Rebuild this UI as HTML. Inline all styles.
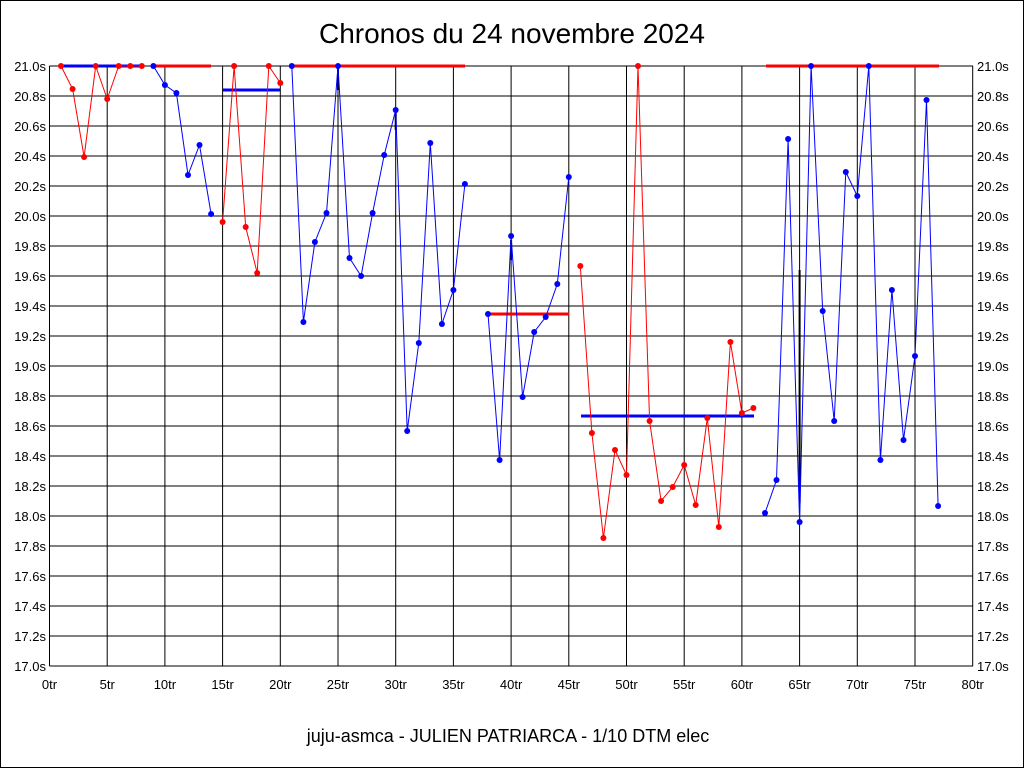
<!DOCTYPE html>
<html><head><meta charset="utf-8"><style>
html,body{margin:0;padding:0;background:#fff;}
svg{display:block;font-family:"Liberation Sans",sans-serif;}
</style></head><body>
<svg width="1024" height="768" viewBox="0 0 1024 768">
<rect x="0.5" y="0.5" width="1023" height="767" fill="#fff" stroke="#000"/>
<text x="512" y="43" font-size="28" text-anchor="middle">Chronos du 24 novembre 2024</text>
<g stroke="#000" stroke-width="1">
<path d="M49.5 66H973M49.5 96H973M49.5 126H973M49.5 156H973M49.5 186H973M49.5 216H973M49.5 246H973M49.5 276H973M49.5 306H973M49.5 336H973M49.5 366H973M49.5 396H973M49.5 426H973M49.5 456H973M49.5 486H973M49.5 516H973M49.5 546H973M49.5 576H973M49.5 606H973M49.5 636H973M49.5 666H973"/>
<path d="M49.5 66V666M107.2 66V666M164.9 66V666M222.6 66V666M280.3 66V666M338 66V666M395.7 66V666M453.4 66V666M511.1 66V666M568.8 66V666M626.5 66V666M684.2 66V666M741.9 66V666M799.6 66V666M857.3 66V666M915 66V666M972.7 66V666"/>
</g>
<g font-size="13" text-anchor="end">
<text x="46" y="71">21.0s</text><text x="46" y="101">20.8s</text><text x="46" y="131">20.6s</text><text x="46" y="161">20.4s</text><text x="46" y="191">20.2s</text><text x="46" y="221">20.0s</text><text x="46" y="251">19.8s</text><text x="46" y="281">19.6s</text><text x="46" y="311">19.4s</text><text x="46" y="341">19.2s</text><text x="46" y="371">19.0s</text><text x="46" y="401">18.8s</text><text x="46" y="431">18.6s</text><text x="46" y="461">18.4s</text><text x="46" y="491">18.2s</text><text x="46" y="521">18.0s</text><text x="46" y="551">17.8s</text><text x="46" y="581">17.6s</text><text x="46" y="611">17.4s</text><text x="46" y="641">17.2s</text><text x="46" y="671">17.0s</text>
</g>
<g font-size="13" text-anchor="start">
<text x="977" y="71">21.0s</text><text x="977" y="101">20.8s</text><text x="977" y="131">20.6s</text><text x="977" y="161">20.4s</text><text x="977" y="191">20.2s</text><text x="977" y="221">20.0s</text><text x="977" y="251">19.8s</text><text x="977" y="281">19.6s</text><text x="977" y="311">19.4s</text><text x="977" y="341">19.2s</text><text x="977" y="371">19.0s</text><text x="977" y="401">18.8s</text><text x="977" y="431">18.6s</text><text x="977" y="461">18.4s</text><text x="977" y="491">18.2s</text><text x="977" y="521">18.0s</text><text x="977" y="551">17.8s</text><text x="977" y="581">17.6s</text><text x="977" y="611">17.4s</text><text x="977" y="641">17.2s</text><text x="977" y="671">17.0s</text>
</g>
<g font-size="13" text-anchor="middle">
<text x="49.5" y="689">0tr</text><text x="107.2" y="689">5tr</text><text x="164.9" y="689">10tr</text><text x="222.6" y="689">15tr</text><text x="280.3" y="689">20tr</text><text x="338" y="689">25tr</text><text x="395.7" y="689">30tr</text><text x="453.4" y="689">35tr</text><text x="511.1" y="689">40tr</text><text x="568.8" y="689">45tr</text><text x="626.5" y="689">50tr</text><text x="684.2" y="689">55tr</text><text x="741.9" y="689">60tr</text><text x="799.6" y="689">65tr</text><text x="857.3" y="689">70tr</text><text x="915" y="689">75tr</text><text x="972.7" y="689">80tr</text>
</g>
<text x="508" y="742" font-size="18" text-anchor="middle">juju-asmca - JULIEN PATRIARCA - 1/10 DTM elec</text>

<!-- average lines -->
<g stroke-width="3">
<path d="M61 66H143" stroke="#0000ff"/>
<path d="M153 66H211" stroke="#ff0000"/>
<path d="M223 90H280" stroke="#0000ff"/>
<path d="M292 66H465" stroke="#ff0000"/>
<path d="M488 314H569" stroke="#ff0000"/>
<path d="M581 416H754" stroke="#0000ff"/>
<path d="M766 66H939" stroke="#ff0000"/>
</g>
<!-- black connectors -->
<g stroke="#000" stroke-width="2">
<path d="M799.6 270V503"/><path d="M338 66V90"/><path d="M395.7 110V130"/><path d="M511.1 240V260"/>
</g>

<g fill="none" stroke-width="1">
<polyline stroke="#ff0000" points="61,66 72.6,89 84.1,157 95.7,66 107.2,99 118.7,66 130.3,66 141.8,66"/>
<polyline stroke="#0000ff" points="153.4,66 164.9,85 176.4,93 188,175 199.5,145 211.1,214"/>
<polyline stroke="#ff0000" points="222.6,222 234.1,66 245.7,227 257.2,273 268.8,66 280.3,83"/>
<polyline stroke="#0000ff" points="291.8,66 303.4,322 314.9,242 326.5,213 338,66 349.5,258 361.1,276 372.6,213 384.2,155 395.7,110 407.2,431 418.8,343 430.3,143 441.9,324 453.4,290 464.9,184"/>
<polyline stroke="#0000ff" points="488,314 499.6,460 511.1,236 522.6,397 534.2,332 545.7,317 557.3,284 568.8,177"/>
<polyline stroke="#ff0000" points="580.3,266 591.9,433 603.4,538 615,450 626.5,475 638,66 649.6,421 661.1,501 672.7,487 684.2,465 695.7,505 707.3,418 718.8,527 730.4,342 741.9,413 753.4,408"/>
<polyline stroke="#0000ff" points="765,513 776.5,480 788.1,139 799.6,522 811.1,66 822.7,311 834.2,421 845.8,172 857.3,196 868.8,66 880.4,460 891.9,290 903.5,440 915,356 926.5,100 938.1,506"/>
</g>
<g fill="#ff0000">
<circle cx="61" cy="66" r="3"/><circle cx="72.6" cy="89" r="3"/><circle cx="84.1" cy="157" r="3"/><circle cx="95.7" cy="66" r="3"/><circle cx="107.2" cy="99" r="3"/><circle cx="118.7" cy="66" r="3"/><circle cx="130.3" cy="66" r="3"/><circle cx="141.8" cy="66" r="3"/>
<circle cx="222.6" cy="222" r="3"/><circle cx="234.1" cy="66" r="3"/><circle cx="245.7" cy="227" r="3"/><circle cx="257.2" cy="273" r="3"/><circle cx="268.8" cy="66" r="3"/><circle cx="280.3" cy="83" r="3"/>
<circle cx="580.3" cy="266" r="3"/><circle cx="591.9" cy="433" r="3"/><circle cx="603.4" cy="538" r="3"/><circle cx="615" cy="450" r="3"/><circle cx="626.5" cy="475" r="3"/><circle cx="638" cy="66" r="3"/><circle cx="649.6" cy="421" r="3"/><circle cx="661.1" cy="501" r="3"/><circle cx="672.7" cy="487" r="3"/><circle cx="684.2" cy="465" r="3"/><circle cx="695.7" cy="505" r="3"/><circle cx="707.3" cy="418" r="3"/><circle cx="718.8" cy="527" r="3"/><circle cx="730.4" cy="342" r="3"/><circle cx="741.9" cy="413" r="3"/><circle cx="753.4" cy="408" r="3"/>
</g>
<g fill="#0000ff">
<circle cx="153.4" cy="66" r="3"/><circle cx="164.9" cy="85" r="3"/><circle cx="176.4" cy="93" r="3"/><circle cx="188" cy="175" r="3"/><circle cx="199.5" cy="145" r="3"/><circle cx="211.1" cy="214" r="3"/>
<circle cx="291.8" cy="66" r="3"/><circle cx="303.4" cy="322" r="3"/><circle cx="314.9" cy="242" r="3"/><circle cx="326.5" cy="213" r="3"/><circle cx="338" cy="66" r="3"/><circle cx="349.5" cy="258" r="3"/><circle cx="361.1" cy="276" r="3"/><circle cx="372.6" cy="213" r="3"/><circle cx="384.2" cy="155" r="3"/><circle cx="395.7" cy="110" r="3"/><circle cx="407.2" cy="431" r="3"/><circle cx="418.8" cy="343" r="3"/><circle cx="430.3" cy="143" r="3"/><circle cx="441.9" cy="324" r="3"/><circle cx="453.4" cy="290" r="3"/><circle cx="464.9" cy="184" r="3"/>
<circle cx="488" cy="314" r="3"/><circle cx="499.6" cy="460" r="3"/><circle cx="511.1" cy="236" r="3"/><circle cx="522.6" cy="397" r="3"/><circle cx="534.2" cy="332" r="3"/><circle cx="545.7" cy="317" r="3"/><circle cx="557.3" cy="284" r="3"/><circle cx="568.8" cy="177" r="3"/>
<circle cx="765" cy="513" r="3"/><circle cx="776.5" cy="480" r="3"/><circle cx="788.1" cy="139" r="3"/><circle cx="799.6" cy="522" r="3"/><circle cx="811.1" cy="66" r="3"/><circle cx="822.7" cy="311" r="3"/><circle cx="834.2" cy="421" r="3"/><circle cx="845.8" cy="172" r="3"/><circle cx="857.3" cy="196" r="3"/><circle cx="868.8" cy="66" r="3"/><circle cx="880.4" cy="460" r="3"/><circle cx="891.9" cy="290" r="3"/><circle cx="903.5" cy="440" r="3"/><circle cx="915" cy="356" r="3"/><circle cx="926.5" cy="100" r="3"/><circle cx="938.1" cy="506" r="3"/>
</g>
</svg>
</body></html>
